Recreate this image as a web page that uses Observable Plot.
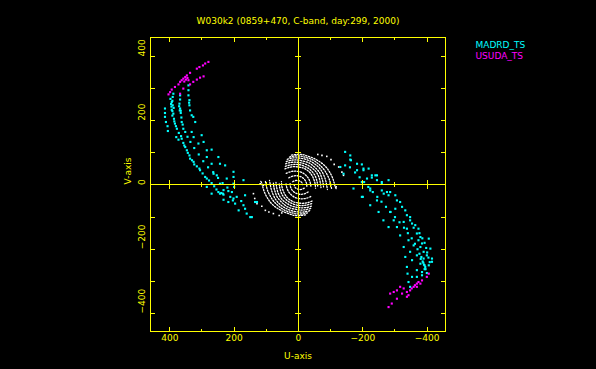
<!DOCTYPE html>
<html>
<head>
<meta charset="utf-8">
<script src="https://cdn.jsdelivr.net/npm/d3@7"></script>
<script src="https://cdn.jsdelivr.net/npm/@observablehq/plot@0.6"></script>
<style>
  html, body { margin: 0; padding: 0; background: #000; }
  #chart svg line, #chart svg rect { shape-rendering: crispEdges; }
</style>
</head>
<body>
<div id="chart"></div>
<script>
// ---- text ----
const titleText = "W030k2 (0859+470, C-band, day:299, 2000)";
const xLabel = "U-axis";
const yLabel = "V-axis";
const seriesNames = ["MADRD_TS", "USUDA_TS"];

// ---- axes ----
const xDomain = [460, -457];
const yDomain = [-456, 459];
const majorTicks = [-400, -200, 0, 200, 400];
const minorTicks = [-300, -100, 100, 300];
const allTicks = [-400, -300, -200, -100, 100, 200, 300, 400];

// ---- MADRD_TS (cyan) [u, v] ----
const madrdUpperLeft = [
  [342,310],[342,295],[342,279],[339,264],[339,248],[337,232],[332,217],[368,279],[368,266],[370,253],
  [368,238],[366,224],[363,196],[389,284],[391,274],[394,258],[391,248],[394,234],[389,222],[387,206],
  [384,191],[378,175],[415,238],[415,224],[415,212],[412,196],[407,183],[321,196],[327,212],[358,175],
  [392,262],[396,252],[388,240],[392,230],[340,256],[366,231],
  [406,168],[380,149],[373,141],[363,144],[358,131],[352,118],[347,108],[339,92],[337,82],[326,72],
  [324,64],[308,51],[306,46],[290,25],[285,20],[270,6],[249,-22],[244,-27],[233,-30],[212,-37],
  [332,165],[326,149],[311,129],[301,155],[295,134],[285,108],[270,110],[285,87],[270,66],[249,87],
  [244,66],[228,61],[223,20],[202,41],[202,4],[171,15],[264,35],[254,30],[244,4],[285,-6],[270,-27],
  [202,25],[233,-16],[235,-27],[218,-19],[202,-42],[218,-53],[233,-46],[197,-58],[166,-32],[171,-63],
  [166,-74],[161,-89],[145,-100],[135,-53],[186,-79],[150,-100],[129,-53],[204,-48],[200,-6],
  [398,268],[395,244],[392,216],[386,198],[381,183],[372,162],[365,152],[355,123],[344,100],[331,77],
  [316,58],[298,36],[278,14],[262,-4],[255,-14],[240,-25],
  [371,245],[369,232],[364,210],[360,188],[352,165],[345,150],[336,134],[324,115],[310,95],[296,74],
  [281,55],[265,40],[250,22],[236,6],[221,-8],[207,-22],[192,-37],[178,-50]
];
const madrdLowerRight = [
  [-145,103],[-161,92],[-161,79],[-130,56],[-140,35],[-182,66],[-197,64],[-202,46],[-218,51],[-228,30],
  [-239,30],[-213,20],[-244,15],[-259,4],[-280,15],[-259,-17],[-275,-22],[-280,-32],[-171,-11],[-197,-37],
  [-223,-17],[-228,23],[-163,77],[-145,61],[-182,46],[-202,51],[-244,30],[-259,9],[-197,9],[-223,-11],
  [-265,-27],[-285,-22],[-301,-32],[-200,-37],[-244,-48],[-306,-48],[-316,-53],[-322,-68],[-223,-63],
  [-249,-84],[-285,-84],[-301,-74],[-332,-79],[-337,-94],[-347,-100],[-347,-110],[-264,-110],[-296,-110],
  [-327,-115],[-353,-120],[-363,-125],[-368,-151],[-379,-162],[-280,-131],[-306,-131],[-337,-136],
  [-358,-133],[-373,-136],[-405,-167],[-373,-172],[-384,-182],[-316,-157],[-342,-172],[-358,-188],
  [-379,-193],[-410,-198],[-389,-208],[-399,-219],[-327,-193],[-347,-208],[-368,-219],[-389,-229],
  [-415,-229],[-332,-224],[-353,-234],[-379,-245],[-394,-255],[-415,-239],[-337,-255],[-368,-265],
  [-384,-271],[-399,-274],[-339,-276],[-353,-286],[-368,-286],[-384,-281],[-342,-302],[-347,-317],
  [-386,-238],[-390,-248],[-382,-224],[-392,-262],
  [-392,-250],[-395,-262],[-388,-242],[-380,-230],[-376,-214],[-370,-200],[-362,-183],[-352,-166],
  [-340,-150],[-328,-133],[-314,-116],[-300,-100],[-286,-84],[-272,-68],[-258,-52],[-245,-37],
  [-231,-22],[-217,-6],[-204,9],[-190,24],[-176,39],[-160,55],
  [-405,-250],[-408,-240],[-404,-226],[-400,-210],[-397,-196],[-392,-180],[-385,-166],[-376,-150]
];

// ---- USUDA_TS (magenta) [u, v] ----
const usudaUpperLeft = [
  [280,383],[290,378],[297,372],[308,367],[316,362],[337,349],[347,341],[352,336],[358,331],[363,326],
  [368,321],[373,313],[384,305],[394,297],[399,289],[404,282],[295,338],[306,334],[316,328],[327,321],
  [337,313],[342,326],[358,300],[368,284],[355,322],[350,328],[345,333]
];
const usudaLowerRight = [
  [-405,-276],[-399,-286],[-384,-297],[-373,-302],[-368,-307],[-358,-317],[-347,-328],[-337,-333],
  [-327,-322],[-316,-317],[-306,-328],[-296,-333],[-285,-338],[-342,-343],[-322,-338],[-306,-354],
  [-290,-369],[-280,-380],[-337,-348],[-368,-317],[-379,-307],[-352,-322],[-362,-312]
];

// ---- other baselines (white): short-baseline tracks [u, v] ----
const otherTracksUpper = [
  [[22,93],[5,95],[-12,95],[-28,90],[-45,84],[-60,76],[-75,66],[-88,53],[-98,38],[-106,22],[-111,6],[-115,-8],[-119,-14]],
  [[28,87],[12,90],[-5,90],[-22,86],[-40,80],[-55,71],[-68,60],[-80,47],[-89,32],[-96,17],[-100,2],[-103,-12]],
  [[35,80],[18,84],[0,84],[-18,81],[-35,75],[-50,66],[-63,55],[-73,42],[-80,27],[-85,12],[-88,-3],[-90,-14]],
  [[38,73],[22,77],[5,78],[-12,75],[-30,70],[-44,61],[-56,50],[-66,38],[-72,23],[-76,9],[-78,-6]],
  [[40,66],[25,70],[8,71],[-8,69],[-24,64],[-38,56],[-50,46],[-59,34],[-65,20],[-68,6],[-70,-8]],
  [[41,58],[27,62],[11,64],[-4,63],[-19,58],[-32,51],[-43,41],[-51,30],[-56,17],[-59,4],[-60,-8]],
  [[42,50],[28,55],[14,57],[0,56],[-14,53],[-27,46],[-37,37],[-44,26],[-49,14],[-52,2],[-53,-10]],
  [[38,36],[26,41],[13,43],[0,42],[-12,38],[-22,31],[-30,22],[-35,12],[-38,1],[-39,-8]],
  [[30,22],[20,27],[8,29],[-4,27],[-14,22],[-21,14],[-25,5],[-26,-4]],
  [[18,10],[8,14],[-2,13],[-10,8],[-13,1]]
];
const otherTracksLower = [
  [[-22,-93],[-5,-95],[12,-95],[28,-90],[45,-84],[60,-76],[75,-66],[88,-53],[98,-38],[106,-22],[111,-6],[115,8],[119,14]],
  [[-28,-87],[-12,-90],[5,-90],[22,-86],[40,-80],[55,-71],[68,-60],[80,-47],[89,-32],[96,-17],[100,-2],[103,12]],
  [[-35,-80],[-18,-84],[0,-84],[18,-81],[35,-75],[50,-66],[63,-55],[73,-42],[80,-27],[85,-12],[88,3],[90,14]],
  [[-38,-73],[-22,-77],[-5,-78],[12,-75],[30,-70],[44,-61],[56,-50],[66,-38],[72,-23],[76,-9],[78,6]],
  [[-40,-66],[-25,-70],[-8,-71],[8,-69],[24,-64],[38,-56],[50,-46],[59,-34],[65,-20],[68,-6],[70,8]],
  [[-41,-58],[-27,-62],[-11,-64],[4,-63],[19,-58],[32,-51],[43,-41],[51,-30],[56,-17],[59,-4],[60,8]],
  [[-42,-50],[-28,-55],[-14,-57],[0,-56],[14,-53],[27,-46],[37,-37],[44,-26],[49,-14],[52,-2],[53,10]],
  [[-38,-36],[-26,-41],[-13,-43],[0,-42],[12,-38],[22,-31],[30,-22],[35,-12],[38,-1],[39,8]],
  [[-30,-22],[-20,-27],[-8,-29],[4,-27],[14,-22],[21,-14],[25,-5],[26,4]],
  [[-18,-10],[-8,-14],[2,-13],[10,-8],[13,-1]]
];
const otherSparse = [
  [-60,95],[-73,92],[-88,89],[-101,79],[-111,64],[-125,56],[-135,40],[-140,30],[-117,-6],[-99,4],
  [60,-95],[52,-87],[78,-89],[92,-84],[103,-79],[114,-66],[129,-58],[136,-42],[140,-27],[119,4],[109,-1]
];

// ---- styles ----
const AX = "#ffff00";
const CYAN = "#00ffff";
const MAGENTA = "#ff00ff";
const WHITE = "#ffffff";

const W = 596, H = 369;
const mL = 150, mR = 151, mT = 37, mB = 38;
const pxX = (W - mL - mR) / Math.abs(xDomain[0] - xDomain[1]);
const pxY = (H - mT - mB) / Math.abs(yDomain[1] - yDomain[0]);
const tickLenX = 4.5 / pxY, tickLenXMinor = 2.5 / pxY;
const tickLenY = 4.5 / pxX;
const crossMajor = 4.5 / pxY, crossMinor = 2.5 / pxY;
const crossY = 3.3 / pxX;

const fmt = d => (d < 0 ? "\u2212" + Math.abs(d) : String(d));
const uu = d => d[0], vv = d => d[1];
const dotOpts = (color, r) => ({x: uu, y: vv, symbol: "square", r, fill: color, stroke: "none"});

const trackRows = [...otherTracksUpper, ...otherTracksLower]
  .flatMap((track, i) => track.map(p => ({u: p[0], v: p[1], track: i})));

const xMin = xDomain[1], xMax = xDomain[0];
const yMin = yDomain[0], yMax = yDomain[1];

const plot = Plot.plot({
  width: W, height: H,
  marginLeft: mL, marginRight: mR, marginTop: mT, marginBottom: mB,
  x: {domain: xDomain, axis: null},
  y: {domain: yDomain, axis: null},
  style: {background: "#000", fontFamily: "DejaVu Sans, sans-serif", fontSize: "9px", overflow: "visible"},
  marks: [
    // other baselines (white dotted tracks)
    Plot.line(trackRows, {x: "u", y: "v", z: "track", curve: "catmull-rom", stroke: WHITE,
      strokeWidth: 1.3, strokeDasharray: "1.3,1.6"}),
    Plot.dot(otherSparse, dotOpts(WHITE, 0.9)),
    // MADRD_TS and USUDA_TS
    Plot.dot(madrdUpperLeft, dotOpts(CYAN, 1.2)),
    Plot.dot(madrdLowerRight, dotOpts(CYAN, 1.2)),
    Plot.dot(usudaUpperLeft, dotOpts(MAGENTA, 1.2)),
    Plot.dot(usudaLowerRight, dotOpts(MAGENTA, 1.2)),
    // central axes
    Plot.ruleX([0], {stroke: AX}),
    Plot.ruleY([0], {stroke: AX}),
    Plot.ruleX(allTicks.filter(t => t % 200 === 0), {x: d => d, y1: -crossMajor, y2: crossMajor, stroke: AX}),
    Plot.ruleX(minorTicks, {x: d => d, y1: -crossMinor, y2: crossMinor, stroke: AX}),
    Plot.ruleY(allTicks, {y: d => d, x1: -crossY, x2: crossY, stroke: AX}),
    // frame
    Plot.frame({stroke: AX}),
    // frame ticks: bottom & top
    Plot.ruleX(majorTicks, {x: d => d, y1: yMin, y2: yMin + tickLenX, stroke: AX}),
    Plot.ruleX(minorTicks, {x: d => d, y1: yMin, y2: yMin + tickLenXMinor, stroke: AX}),
    Plot.ruleX(majorTicks, {x: d => d, y1: yMax, y2: yMax - tickLenX, stroke: AX}),
    Plot.ruleX(minorTicks, {x: d => d, y1: yMax, y2: yMax - tickLenXMinor, stroke: AX}),
    // frame ticks: left & right
    Plot.ruleY([...majorTicks, ...minorTicks], {y: d => d, x1: xMax, x2: xMax - tickLenY, stroke: AX}),
    Plot.ruleY([...majorTicks, ...minorTicks], {y: d => d, x1: xMin, x2: xMin + tickLenY, stroke: AX}),
    // tick labels
    Plot.text(majorTicks, {x: d => d, frameAnchor: "bottom", dy: 9, text: fmt, fill: AX}),
    Plot.text(majorTicks, {y: d => d, frameAnchor: "left", dx: -8, rotate: -90, text: fmt, fill: AX}),
    // axis labels
    Plot.text([xLabel], {frameAnchor: "bottom", dy: 27, text: d => d, fill: AX}),
    Plot.text([yLabel], {frameAnchor: "left", dx: -22, rotate: -90, text: d => d, fill: AX}),
    // title
    Plot.text([titleText], {frameAnchor: "top", dy: -20, text: d => d, fill: AX}),
    // legend
    Plot.text([seriesNames[0]], {frameAnchor: "top-right", dx: 30, dy: 4, textAnchor: "start", text: d => d, fill: CYAN}),
    Plot.text([seriesNames[1]], {frameAnchor: "top-right", dx: 30, dy: 15.5, textAnchor: "start", text: d => d, fill: MAGENTA})
  ]
});
document.getElementById("chart").appendChild(plot);
</script>
</body>
</html>
